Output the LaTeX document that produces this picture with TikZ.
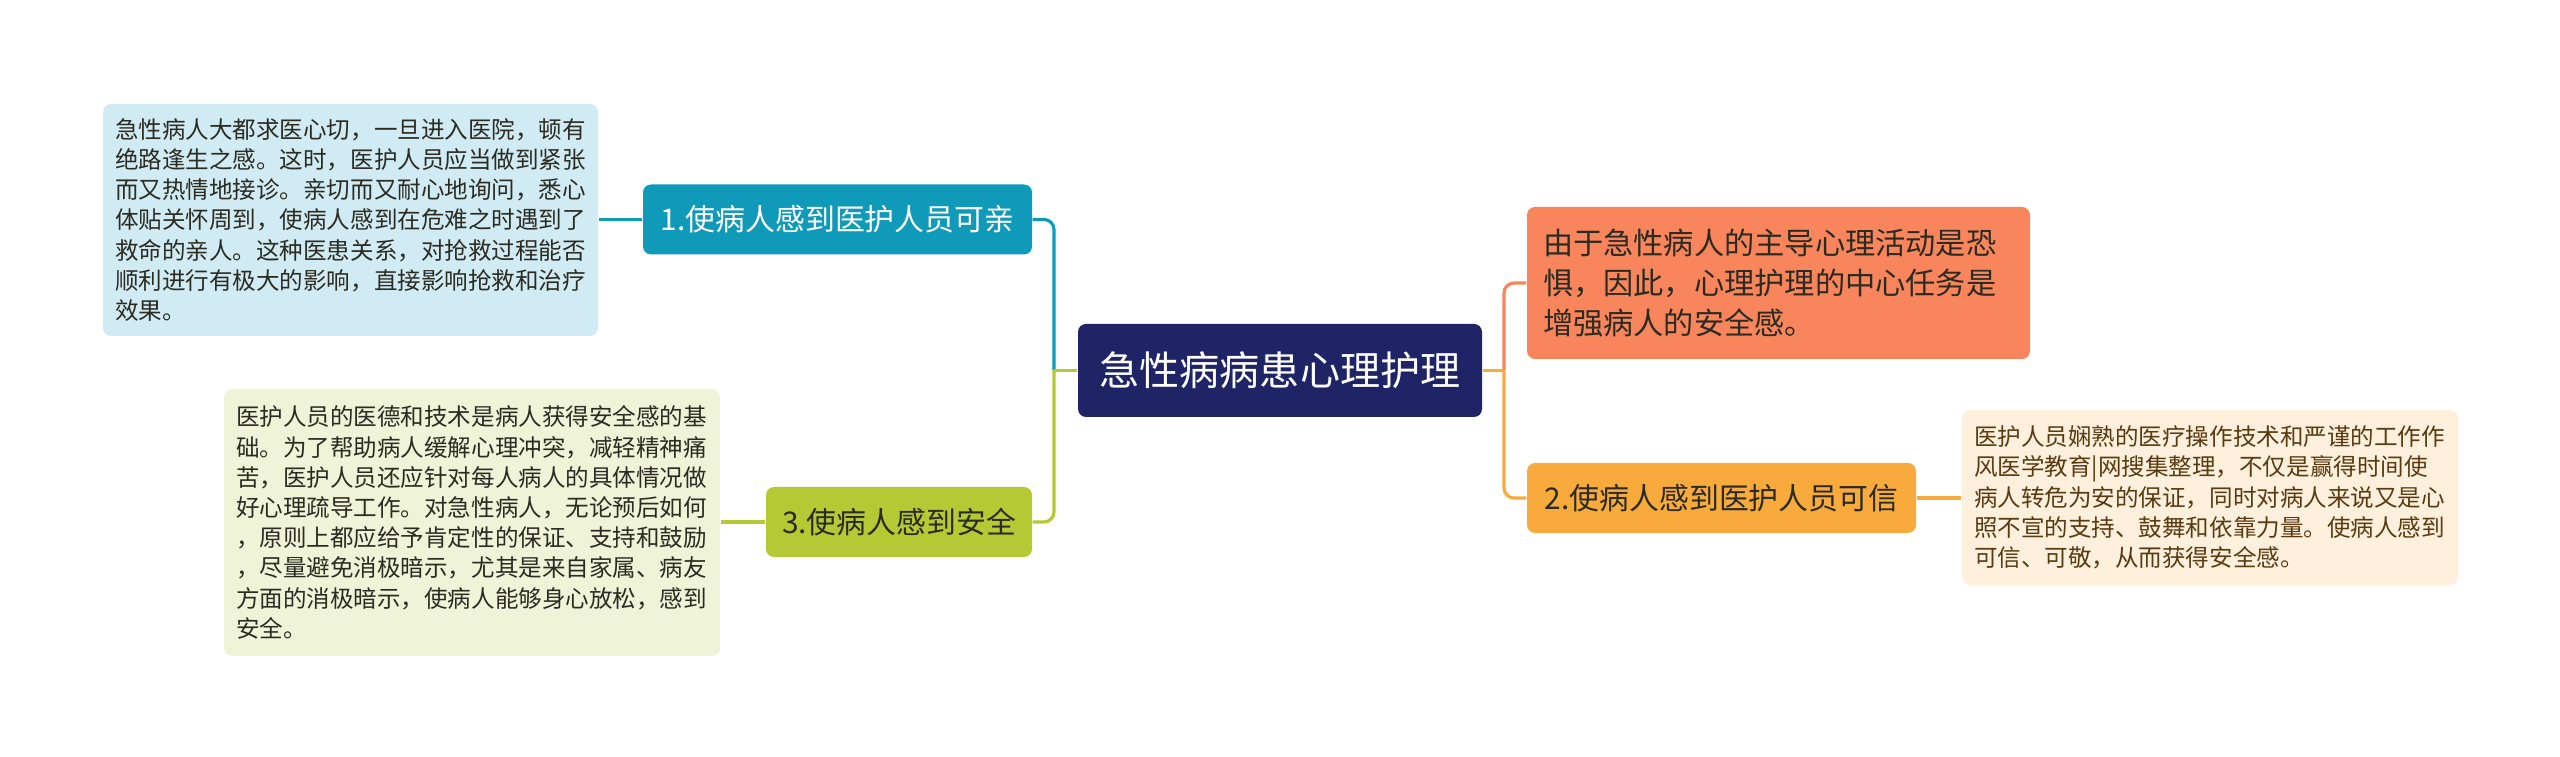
\documentclass[tikz,border=0pt]{standalone}
\usepackage{fontspec}
\setmainfont{Noto Sans CJK SC}
\definecolor{cnavy}{HTML}{1F2466}
\definecolor{cteal}{HTML}{0E9AB8}
\definecolor{lteal}{HTML}{D0EBF3}
\definecolor{clime}{HTML}{B5C934}
\definecolor{llime}{HTML}{EFF4D9}
\definecolor{ccoral}{HTML}{F8855B}
\definecolor{camber}{HTML}{F8AA3C}
\definecolor{lamber}{HTML}{FEF0DC}
\definecolor{cbrown}{HTML}{5A3A10}
\definecolor{cdark}{HTML}{2B2B22}
\begin{document}
\begin{tikzpicture}[
    box/.style={rounded corners=0.08cm, inner ysep=0pt},
    leaf/.style={box, inner xsep=0.12cm, align=left, font=\fontsize{6.7}{8.6}\selectfont},
    branch/.style={box, inner xsep=0pt, minimum height=0.70cm, font=\fontsize{8.5}{11}\selectfont},
    link/.style={line width=0.9pt, rounded corners=0.1cm}]
    \useasboundingbox (0,0) rectangle (25.6,7.57);

    \node[box, fill=cnavy, text=white, minimum width=4.04cm, minimum height=0.93cm,
        font=\fontsize{11.4}{14}\selectfont] (root) at (12.80,3.865) {急性病病患心理护理};

    \node[branch, fill=cteal, text=white, minimum width=3.89cm] (b1) at (8.375,5.375) {1.使病人感到医护人员可亲};
    \node[branch, fill=clime, text=cdark, minimum width=2.66cm] (b3) at (8.99,2.35) {3.使病人感到安全};
    \node[branch, fill=camber, text=cdark, minimum width=3.89cm] (b2) at (17.215,2.59) {2.使病人感到医护人员可信};
    \node[box, fill=ccoral, text=cdark, inner xsep=0.16cm, text width=4.71cm, minimum height=1.52cm,
        align=left, font=\fontsize{8.6}{11.4}\selectfont] (core) at (17.785,4.74)
        {由于急性病人的主导心理活动是恐\\惧，因此，心理护理的中心任务是\\增强病人的安全感。};

    \node[leaf, fill=lteal, text=cdark, text width=4.71cm, minimum height=2.32cm] (t1) at (3.505,5.37)
        {急性病人大都求医心切，一旦进入医院，顿有\\
         绝路逢生之感。这时，医护人员应当做到紧张\\
         而又热情地接诊。亲切而又耐心地询问，悉心\\
         体贴关怀周到，使病人感到在危难之时遇到了\\
         救命的亲人。这种医患关系，对抢救过程能否\\
         顺利进行有极大的影响，直接影响抢救和治疗\\
         效果。};
    \node[leaf, fill=llime, text=cdark, text width=4.72cm, minimum height=2.67cm] (t3) at (4.72,2.345)
        {医护人员的医德和技术是病人获得安全感的基\\
         础。为了帮助病人缓解心理冲突，减轻精神痛\\
         苦，医护人员还应针对每人病人的具体情况做\\
         好心理疏导工作。对急性病人，无论预后如何\\
         ，原则上都应给予肯定性的保证、支持和鼓励\\
         ，尽量避免消极暗示，尤其是来自家属、病友\\
         方面的消极暗示，使病人能够身心放松，感到\\
         安全。};
    \node[leaf, fill=lamber, text=cbrown, text width=4.72cm, minimum height=1.75cm] (t2) at (22.10,2.595)
        {医护人员娴熟的医疗操作技术和严谨的工作作\\
         风医学教育|网搜集整理，不仅是赢得时间使\\
         病人转危为安的保证，同时对病人来说又是心\\
         照不宣的支持、鼓舞和依靠力量。使病人感到\\
         可信、可敬，从而获得安全感。};

    % left side
    \coordinate (lj) at (10.54,3.865);
    \draw[link, cteal] (lj) |- (b1.east);
    \draw[link, clime] (lj) |- (b3.east);
    \draw[link, clime] (root.west) -- (lj);
    \draw[link, cteal] (b1.west) -- (b1.west -| t1.east);
    \draw[link, clime] (b3.west) -- (b3.west -| t3.east);

    % right side
    \coordinate (rj) at (15.04,3.865);
    \draw[link, ccoral] (rj) |- (core.west);
    \draw[link, camber] (rj) |- (b2.west);
    \draw[link, camber] (root.east) -- (rj);
    \draw[link, camber] (b2.east) -- (b2.east -| t2.west);
\end{tikzpicture}
\end{document}
